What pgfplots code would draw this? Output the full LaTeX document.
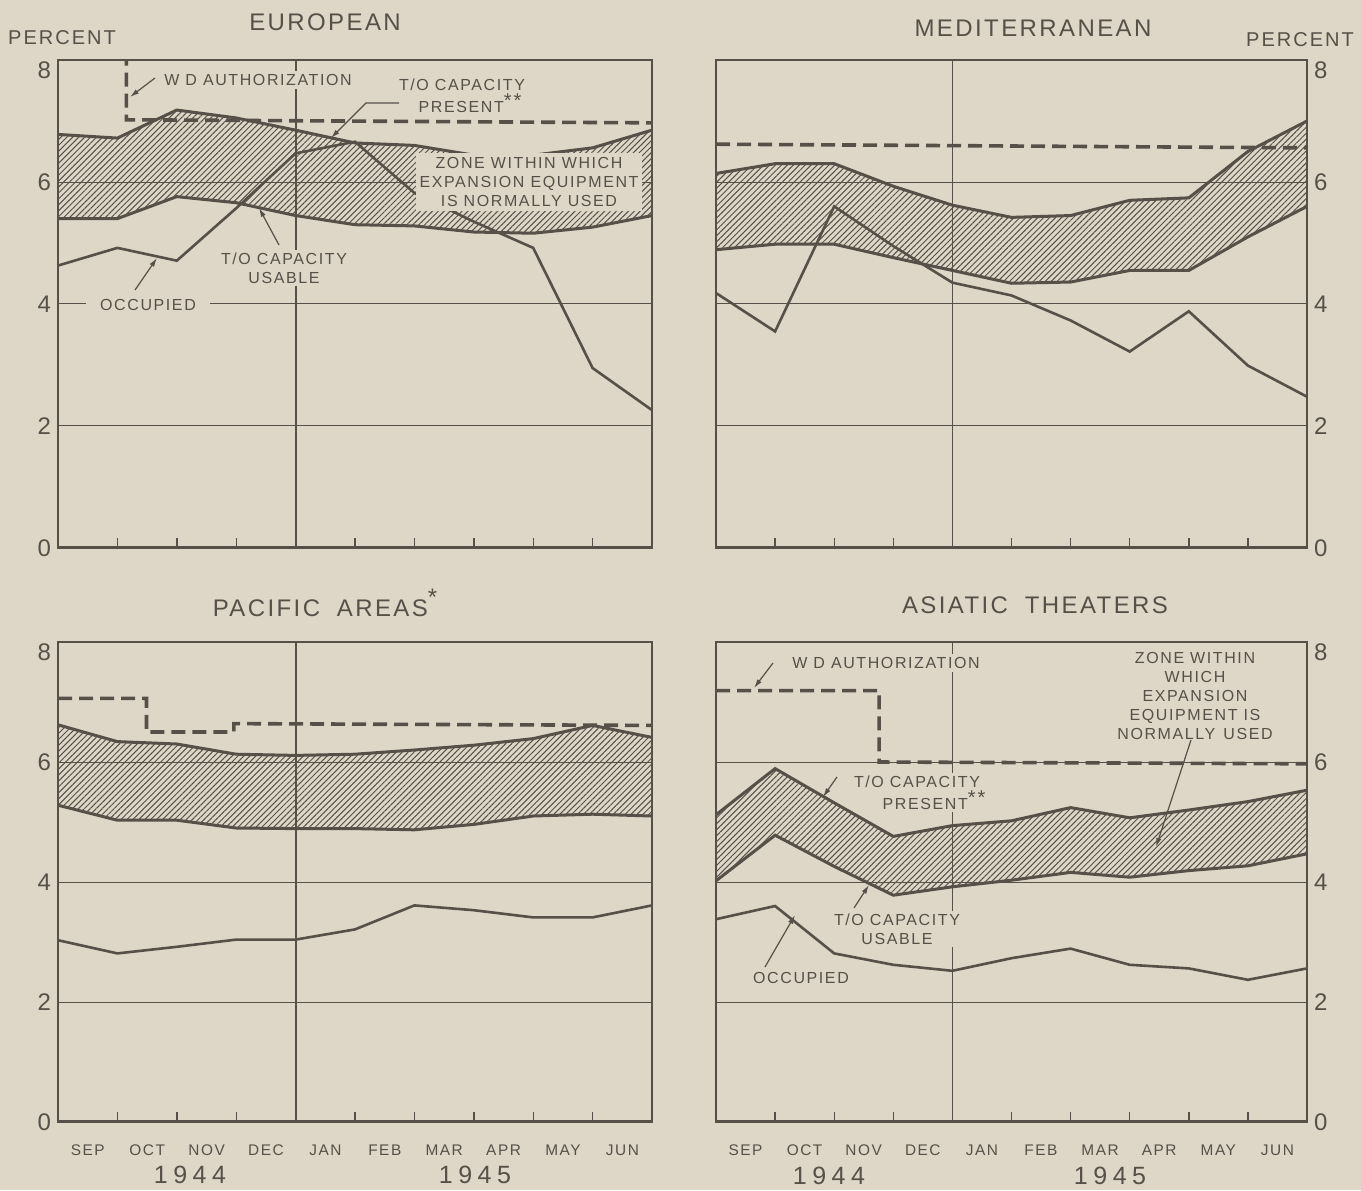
\documentclass[border=0pt]{standalone}
\usepackage{fontspec}
\setmainfont{Liberation Sans}[LetterSpace=10]
\usepackage{pgfplots}
\pgfplotsset{compat=1.18}
\usepgfplotslibrary{fillbetween}
\usetikzlibrary{patterns.meta,arrows.meta}
\definecolor{paper}{RGB}{222,214,199}
\definecolor{ink}{RGB}{86,80,72}
\pagecolor{paper}

\pgfplotsset{
  panel/.style={
    scale only axis, width=297pt, height=244pt,
    xmin=0, xmax=10, ymin=0, ymax=8,
    axis line style={ink, line width=0.7pt},
    ytick={0,2,4,6}, ymajorgrids, grid style={ink, line width=0.5pt},
    extra y ticks={8}, extra y tick style={yticklabel style={yshift=-5pt}},
    ytick style={draw=none},
    xtick={1,...,10}, xtick pos=left, tick align=inside, major tick length=5pt,
    xtick style={ink, line width=0.7pt},
    xticklabels={},
    /pgf/number format/assume math mode=true,
    yticklabel style={font=\fontsize{12}{12}\selectfont, text=ink},
    xticklabel style={font=\fontsize{7.7}{8}\selectfont, text=ink, xshift=-14.8pt, yshift=-8pt},
  },
  months/.style={xticklabels={SEP,OCT,NOV,DEC,JAN,FEB,MAR,APR,MAY,JUN}},
  band/.style={ink, line width=1.5pt},
  occ/.style={ink, line width=1.3pt},
  zone/.style={draw=none, pattern={Lines[angle=45,distance=2.1pt,line width=0.5pt]}, pattern color=ink},
  wd/.style={ink, line width=1.8pt, dash pattern=on 7pt off 3.5pt},
}
\tikzset{
  lab/.style={text=ink, font=\fontsize{8}{9.5}\selectfont, align=center, fill=paper, inner sep=1.5pt},
  ttl/.style={text=ink, font=\fontsize{12}{14}\selectfont},
  yr/.style={text=ink, font=\fontsize{12.5}{14}\selectfont\addfontfeature{LetterSpace=22}, inner sep=0pt},
  lead/.style={ink, line width=0.6pt, -{Latex[length=4.5pt,width=2.6pt]}},
}
\newcommand{\stars}{\raisebox{0.3em}{\fontsize{10}{10}\selectfont **}}

\begin{document}
\begin{tikzpicture}

% ---------------- European
\begin{axis}[panel, at={(29pt,321pt)}, anchor=south west, yticklabel pos=left]
\addplot[band, name path=eu] coordinates {(0,6.78)(1,6.72)(2,7.18)(3,7.05)(4,6.85)(5,6.64)(6,6.60)(7,6.44)(8,6.44)(9,6.56)(10,6.85)};
\addplot[band, name path=el] coordinates {(0,5.40)(1,5.40)(2,5.76)(3,5.66)(4,5.45)(5,5.30)(6,5.28)(7,5.18)(8,5.16)(9,5.26)(10,5.45)};
\addplot[zone] fill between[of=eu and el];
\addplot[occ] coordinates {(0,4.63)(1,4.92)(2,4.71)(3,5.57)(4,6.47)(5,6.66)(6,5.82)(7,5.35)(8,4.92)(9,2.95)(10,2.26)};
\addplot[wd, clip=false] coordinates {(0,8.05)(1.15,8.05)(1.15,7.02)(10,6.97)};
\draw[ink, line width=0.9pt] (axis cs:4,0) -- (axis cs:4,8);
\draw[ink, line width=2pt] (axis cs:0,0) -- (axis cs:10,0);
\end{axis}

% ---------------- Mediterranean
\begin{axis}[panel, width=295.5pt, at={(358pt,321pt)}, anchor=south west, yticklabel pos=right]
\addplot[band, name path=mu] coordinates {(0,6.14)(1,6.30)(2,6.30)(3,5.93)(4,5.62)(5,5.42)(6,5.45)(7,5.70)(8,5.74)(9,6.50)(10,7.00)};
\addplot[band, name path=ml] coordinates {(0,4.89)(1,4.98)(2,4.98)(3,4.76)(4,4.55)(5,4.34)(6,4.36)(7,4.55)(8,4.55)(9,5.10)(10,5.60)};
\addplot[zone] fill between[of=mu and ml];
\addplot[occ] coordinates {(0,4.18)(1,3.55)(2,5.60)(3,4.95)(4,4.35)(5,4.14)(6,3.73)(7,3.22)(8,3.88)(9,2.99)(10,2.48)};
\addplot[wd] coordinates {(0,6.62)(10,6.56)};
\draw[ink, line width=0.9pt] (axis cs:4,0) -- (axis cs:4,8);
\draw[ink, line width=2pt] (axis cs:0,0) -- (axis cs:10,0);
\end{axis}

% ---------------- Pacific
\begin{axis}[panel, height=240pt, at={(29pt,34pt)}, anchor=south west, yticklabel pos=left, months]
\addplot[band, name path=pu] coordinates {(0,6.62)(1,6.34)(2,6.30)(3,6.13)(4,6.11)(5,6.13)(6,6.20)(7,6.28)(8,6.39)(9,6.61)(10,6.41)};
\addplot[band, name path=pl] coordinates {(0,5.28)(1,5.03)(2,5.03)(3,4.90)(4,4.89)(5,4.89)(6,4.87)(7,4.96)(8,5.10)(9,5.13)(10,5.10)};
\addplot[zone] fill between[of=pu and pl];
\addplot[occ] coordinates {(0,3.03)(1,2.81)(2,2.92)(3,3.04)(4,3.04)(5,3.21)(6,3.61)(7,3.53)(8,3.41)(9,3.41)(10,3.61)};
\addplot[wd] coordinates {(0,7.06)(1.49,7.06)(1.49,6.50)(2.96,6.50)(2.96,6.64)(10,6.61)};
\draw[ink, line width=0.9pt] (axis cs:4,0) -- (axis cs:4,8);
\draw[ink, line width=2pt] (axis cs:0,0) -- (axis cs:10,0);
\end{axis}

% ---------------- Asiatic
\begin{axis}[panel, width=295.5pt, height=240pt, at={(358pt,34pt)}, anchor=south west, yticklabel pos=right, months]
\addplot[band, name path=au] coordinates {(0,5.12)(1,5.89)(2,5.32)(3,4.76)(4,4.94)(5,5.02)(6,5.24)(7,5.07)(8,5.20)(9,5.34)(10,5.53)};
\addplot[band, name path=al] coordinates {(0,4.02)(1,4.78)(2,4.26)(3,3.78)(4,3.92)(5,4.03)(6,4.16)(7,4.08)(8,4.19)(9,4.27)(10,4.47)};
\addplot[zone] fill between[of=au and al];
\addplot[occ] coordinates {(0,3.38)(1,3.60)(2,2.81)(3,2.62)(4,2.52)(5,2.73)(6,2.89)(7,2.62)(8,2.56)(9,2.37)(10,2.56)};
\addplot[wd] coordinates {(0,7.19)(2.76,7.19)(2.76,6.00)(10,5.97)};
\draw[ink, line width=0.9pt] (axis cs:4,0) -- (axis cs:4,8);
\draw[ink, line width=2pt] (axis cs:0,0) -- (axis cs:10,0);
\end{axis}

\useasboundingbox (0,0) rectangle (680.5pt,595pt);

\begin{scope}[x=0.5pt, y=0.5pt]
% ---------------- titles and headings
\node[ttl] at (325,1168) {EUROPEAN};
\node[ttl] at (1033,1162) {MEDITERRANEAN};
\node[ttl] at (325,587) {PACIFIC\hspace{0.7em}AREAS\raisebox{0.45em}{*}};
\node[ttl] at (1035,585) {ASIATIC\hspace{0.7em}THEATERS};
\node[text=ink, font=\fontsize{10}{12}\selectfont, inner sep=1pt] at (62,1152) {PERCENT};
\node[text=ink, font=\fontsize{10}{12}\selectfont, inner sep=1pt] at (1300,1150) {PERCENT};
\node[yr] at (190,15) {1944};
\node[yr] at (475,15) {1945};
\node[yr] at (829,14) {1944};
\node[yr] at (1110,14) {1945};

% ---------------- European notes
\node[lab] at (258,1110) {W D AUTHORIZATION};
\draw[lead] (155,1112) -- (130,1093);
\node[lab] at (462,1105) {T/O CAPACITY};
\node[lab] at (470,1087) {PRESENT\stars};
\draw[lead] (399,1087) -- (366,1087) -- (331,1052);
\node[lab, inner sep=2pt] at (529,1008) {ZONE WITHIN WHICH\\EXPANSION EQUIPMENT\\IS NORMALLY USED};
\node[lab] at (284,922) {T/O CAPACITY\\USABLE};
\draw[lead] (279,945) -- (259,982);
\node[lab, inner xsep=7pt] at (148,885) {OCCUPIED};
\draw[lead] (135,900) -- (157,932);

% ---------------- Asiatic notes
\node[lab] at (886,527) {W D AUTHORIZATION};
\draw[lead] (773,527) -- (754,502);
\node[lab] at (917,408) {T/O CAPACITY};
\node[lab] at (934,390) {PRESENT\stars};
\draw[lead] (837,413) -- (823,393);
\node[lab] at (897,261) {T/O CAPACITY\\USABLE};
\draw[lead] (854,282) -- (869,305);
\node[lab] at (801,212) {OCCUPIED};
\draw[lead] (765,223) -- (795,275);
\node[lab] at (1195,494) {ZONE WITHIN\\WHICH\\EXPANSION\\EQUIPMENT IS\\NORMALLY\hspace{0.5em}USED};
\draw[lead] (1191,450) -- (1156,343);
\end{scope}
\end{tikzpicture}
\end{document}
